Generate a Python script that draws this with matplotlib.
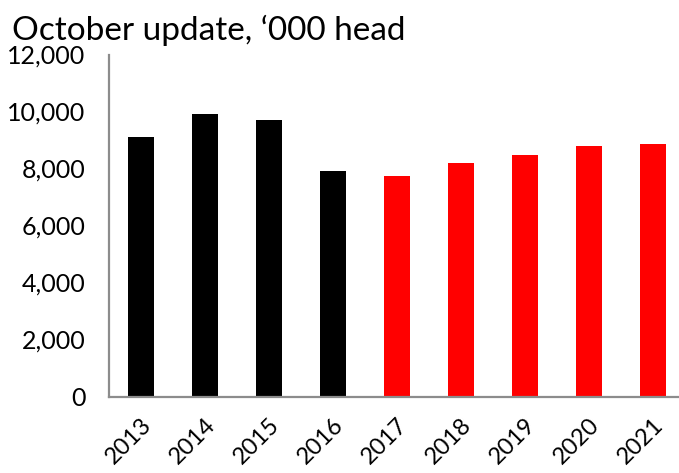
import matplotlib
matplotlib.use("Agg")
import matplotlib.pyplot as plt
import numpy as np

years = ["2013", "2014", "2015", "2016", "2017", "2018", "2019", "2020", "2021"]
head = [9100, 9910, 9700, 7910, 7740, 8180, 8480, 8790, 8860]
forecast = [False, False, False, False, True, True, True, True, True]

plt.rcParams["font.family"] = ["Lato", "DejaVu Sans"]

fig = plt.figure(figsize=(6.79, 4.73), dpi=100)
ax = fig.add_axes([109 / 679, 76.5 / 473, 576 / 679, 342 / 473])

x = np.arange(len(years))
colors = ["#ff0000" if f else "#000000" for f in forecast]
ax.bar(x, head, width=0.41, color=colors)

ax.set_xlim(-0.5, len(years) - 0.5)
ax.set_ylim(0, 12000)
ax.set_yticks(np.arange(0, 12001, 2000))
ax.yaxis.set_major_formatter(plt.FuncFormatter(lambda v, _: f"{v:,.0f}"))
ax.set_xticks(x)
ax.set_xticklabels(years, rotation=45, ha="right", rotation_mode="anchor")
ax.tick_params(axis="both", length=0)
ax.tick_params(axis="y", pad=17, labelsize=18)
ax.tick_params(axis="x", pad=13, labelsize=17)

for s in ["top", "right"]:
    ax.spines[s].set_visible(False)
for s in ["left", "bottom"]:
    ax.spines[s].set_color("#8c8c8c")
    ax.spines[s].set_linewidth(1.6)

fig.text(12 / 679, 1 - 40 / 473, "October update, \u2018000 head", fontsize=24, ha="left", va="baseline")

fig.savefig("out.png", dpi=100)
